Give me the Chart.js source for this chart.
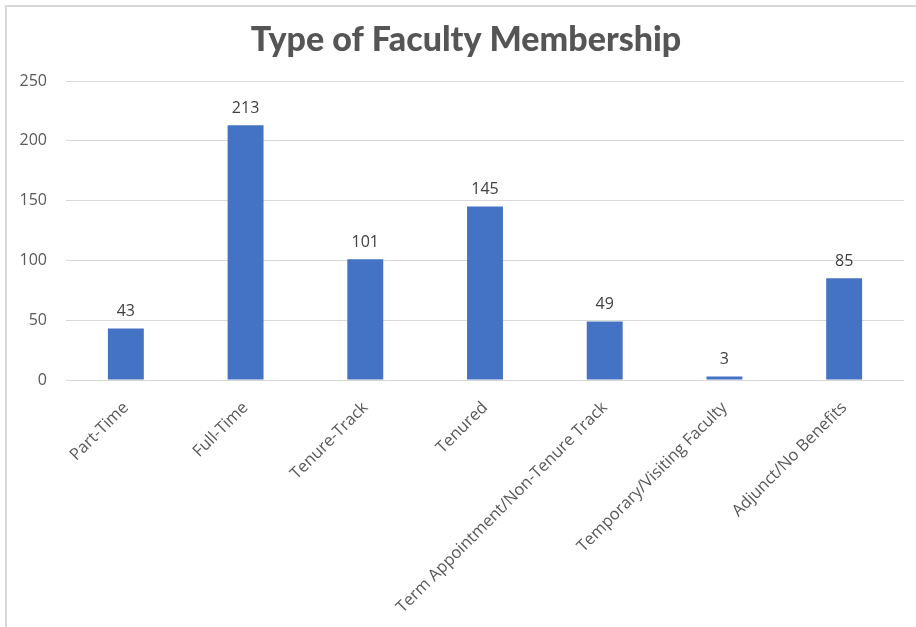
<!DOCTYPE html>
<html>
<head>
<meta charset="utf-8">
<script src="https://cdn.jsdelivr.net/npm/chart.js@4"></script>
<style>
  body { margin: 0; background: #fff; }
  #wrap { position: relative; width: 916px; height: 627px; overflow: hidden; }
  #edgeLeft { position: absolute; left: 5px; top: 5px; width: 2px; height: 622px; background: #d9d9d9; }
  #edgeTop { position: absolute; left: 5px; top: 5px; width: 911px; height: 2px; background: #d9d9d9; }
  canvas { position: absolute; left: 0; top: 0; }
  .preload { position: absolute; left: -999px; top: -999px; }
</style>
</head>
<body>
<span class="preload" style="font-family:'Open Sans'">Open Sans 0123</span>
<span class="preload" style="font-family:Lato;font-weight:900">Lato Black</span>
<div id="wrap">
  <div id="edgeLeft"></div>
  <div id="edgeTop"></div>
  <canvas id="facultyChart" width="916" height="627"></canvas>
</div>
<script>
const chartTitle = "Type of Faculty Membership";
const categories = [
  "Part-Time",
  "Full-Time",
  "Tenure-Track",
  "Tenured",
  "Term Appointment/Non-Tenure Track",
  "Temporary/Visiting Faculty",
  "Adjunct/No Benefits"
];
const memberCounts = [43, 213, 101, 145, 49, 3, 85];
const yTicks = [0, 50, 100, 150, 200, 250];

// draws the value above each bar
const barValues = {
  id: "barValues",
  afterDatasetsDraw(chart) {
    const ctx = chart.ctx;
    const meta = chart.getDatasetMeta(0);
    ctx.save();
    ctx.font = "16px 'Open Sans'";
    ctx.fillStyle = "#404040";
    ctx.textAlign = "center";
    ctx.textBaseline = "bottom";
    meta.data.forEach(function (bar, i) {
      ctx.fillText(memberCounts[i], bar.x, bar.y - 9);
    });
    ctx.restore();
  }
};

// title sits a bit right of the canvas centre in the original
const titleText = {
  id: "titleText",
  afterDraw(chart) {
    const ctx = chart.ctx;
    ctx.save();
    ctx.font = "900 34px Lato";
    ctx.fillStyle = "#555555";
    ctx.textAlign = "center";
    ctx.textBaseline = "middle";
    ctx.fillText(chartTitle, 466, 40);
    ctx.restore();
  }
};

function drawChart() {
  const ctx = document.getElementById("facultyChart").getContext("2d");
  new Chart(ctx, {
    type: "bar",
    data: {
      labels: categories,
      datasets: [{
        data: memberCounts,
        backgroundColor: "#4472C4",
        barPercentage: 0.3,
        categoryPercentage: 1
      }]
    },
    options: {
      responsive: false,
      animation: false,
      layout: { padding: { left: 0, right: 12, top: 81, bottom: 0 } },
      plugins: {
        legend: { display: false },
        tooltip: { enabled: false },
        title: { display: false }
      },
      scales: {
        x: {
          grid: { display: false },
          border: { display: false },
          ticks: {
            color: "#595959",
            font: { family: "Open Sans", size: 16.5 },
            minRotation: 45,
            maxRotation: 45,
            autoSkip: false,
            padding: 10
          },
          afterFit(scale) { scale.height = 247; }
        },
        y: {
          min: 0,
          max: 250,
          afterBuildTicks(scale) { scale.ticks = yTicks.map(v => ({ value: v })); },
          grid: { color: "#d9d9d9", lineWidth: 1, drawTicks: false },
          border: { display: false },
          ticks: {
            color: "#595959",
            font: { family: "Open Sans", size: 16 },
            padding: 19
          },
          afterFit(scale) { scale.width = 66; }
        }
      }
    },
    plugins: [barValues, titleText]
  });
}

Promise.all([
  document.fonts.load("16px 'Open Sans'"),
  document.fonts.load("900 34px Lato")
]).then(drawChart, drawChart);
</script>
</body>
</html>
